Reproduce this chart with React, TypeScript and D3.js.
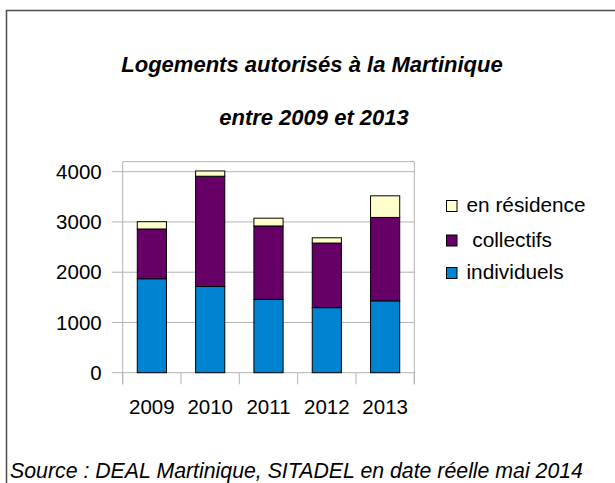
import React from "react";
import * as d3 from "d3";

const years = ["2009", "2010", "2011", "2012", "2013"];
const individuels = [1870, 1715, 1460, 1295, 1430];
const collectifs = [990, 2195, 1460, 1285, 1660];
const residence = [145, 105, 155, 105, 430];
const seriesNames = ["individuels", " collectifs", "en résidence"];
const seriesColors = ["#0084d1", "#660066", "#ffffcc"];
const yTicks = [0, 1000, 2000, 3000, 4000];
const titleLines = ["Logements autorisés à la Martinique", "entre 2009 et 2013"];
const sourceText = "Source : DEAL Martinique, SITADEL en date réelle mai 2014";

export default function App() {
  const W = 615, H = 483;
  const left = 122.7, right = 414.3, top = 161.65, bottom = 372.7;
  const font = "'Liberation Sans', Arial, sans-serif";

  const x = d3.scaleBand<string>().domain(years).range([left, right]).paddingInner(0.5).paddingOuter(0.25);
  const y = d3.scaleLinear().domain([0, 4200]).range([bottom, top]);
  const step = x.step();

  const table = years.map((yr, i) => ({ year: yr, ind: individuels[i], col: collectifs[i], res: residence[i] }));
  const stack = d3.stack<any>().keys(["ind", "col", "res"])(table);

  const legendOrder = [2, 1, 0];
  const legendTops = [200.5, 235, 267.5];

  return (
    <svg width={W} height={H} style={{ position: "absolute", left: 0, top: 0, background: "#fff" }}>
      <rect x={0} y={0} width={W} height={H} fill="#fff" />
      <rect x={6.5} y={10.5} width={700} height={700} fill="none" stroke="#4d4d4d" strokeWidth={1.5} />
      {/* title */}
      <text x={312} y={71.5} textAnchor="middle" fontFamily={font} fontStyle="italic" fontWeight="bold" fontSize={22} fill="#000">{titleLines[0]}</text>
      <text x={314} y={125} textAnchor="middle" fontFamily={font} fontStyle="italic" fontWeight="bold" fontSize={22} fill="#000">{titleLines[1]}</text>

      {/* plot frame */}
      <line x1={left} x2={right} y1={top} y2={top} stroke="#b3b3b3" strokeWidth={1} />
      <line x1={left} x2={left} y1={top} y2={bottom + 11.6} stroke="#b3b3b3" strokeWidth={1} />
      <line x1={right} x2={right} y1={top} y2={bottom + 11.6} stroke="#b3b3b3" strokeWidth={1} />
      {/* gridlines + y labels */}
      {yTicks.map((t) => (
        <g key={t}>
          <line x1={left - 11} x2={right} y1={y(t)} y2={y(t)} stroke="#b3b3b3" strokeWidth={1} />
          <text x={101.7} y={y(t)} dy="0.35em" textAnchor="end" fontFamily={font} fontSize={20.5} fill="#000">{t}</text>
        </g>
      ))}
      {/* category ticks */}
      {d3.range(years.length + 1).map((i) => (
        <line key={i} x1={left + i * step} x2={left + i * step} y1={bottom} y2={bottom + 11.6} stroke="#b3b3b3" strokeWidth={1} />
      ))}
      {/* bars */}
      {stack.map((s, si) => (
        <g key={si}>
          {s.map((d: any, i: number) => (
            <rect key={i} x={x(years[i])} y={y(d[1])} width={x.bandwidth()} height={y(d[0]) - y(d[1])}
              fill={seriesColors[si]} stroke="#000" strokeWidth={1} />
          ))}
        </g>
      ))}
      {/* x labels */}
      {years.map((yr) => (
        <text key={yr} x={(x(yr) as number) + x.bandwidth() / 2} y={414} textAnchor="middle" fontFamily={font} fontSize={20.5} fill="#000">{yr}</text>
      ))}
      {/* legend */}
      {legendOrder.map((si, k) => (
        <g key={si}>
          <rect x={446.5} y={legendTops[k]} width={10.5} height={11} fill={seriesColors[si]} stroke="#000" strokeWidth={1} />
          <text x={466.5} y={legendTops[k] + 11.5} fontFamily={font} fontSize={20.8} fill="#000" style={{ whiteSpace: "pre" }}>{seriesNames[si]}</text>
        </g>
      ))}
      {/* source */}
      <text x={10} y={477.5} fontFamily={font} fontStyle="italic" fontSize={21.3} fill="#000">{sourceText}</text>
    </svg>
  );
}
